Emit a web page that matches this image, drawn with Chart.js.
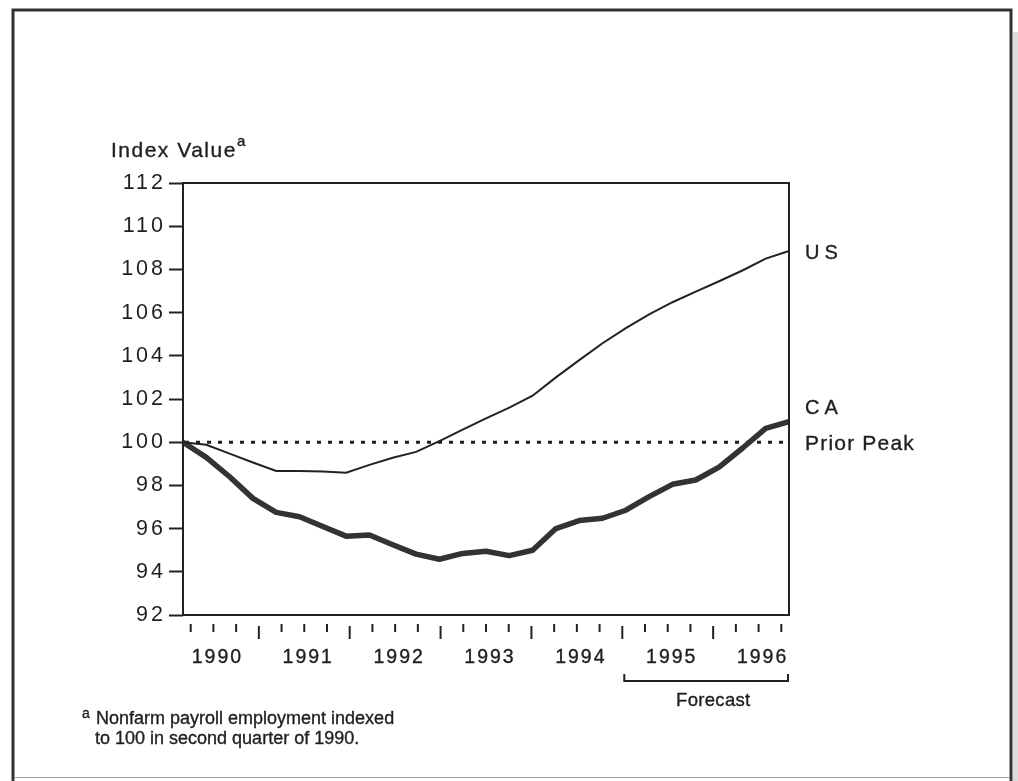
<!DOCTYPE html>
<html>
<head>
<meta charset="utf-8">
<script src="https://cdn.jsdelivr.net/npm/chart.js@4.4.1/dist/chart.umd.min.js"></script>
<style>
  html, body { margin: 0; padding: 0; background: #ffffff; }
  canvas { display: block; }
</style>
</head>
<body>
<canvas id="c" width="1018" height="781"></canvas>
<script>
// ---- data ----
const quarters = [
  "1990 Q2","1990 Q3","1990 Q4",
  "1991 Q1","1991 Q2","1991 Q3","1991 Q4",
  "1992 Q1","1992 Q2","1992 Q3","1992 Q4",
  "1993 Q1","1993 Q2","1993 Q3","1993 Q4",
  "1994 Q1","1994 Q2","1994 Q3","1994 Q4",
  "1995 Q1","1995 Q2","1995 Q3","1995 Q4",
  "1996 Q1","1996 Q2","1996 Q3","1996 Q4"
];
const years = ["1990","1991","1992","1993","1994","1995","1996"];
const usValues = [100, 99.88, 99.47, 99.06, 98.67, 98.67, 98.64, 98.59, 98.95, 99.28, 99.55,
  100.05, 100.58, 101.1, 101.6, 102.15, 103.0, 103.8, 104.58, 105.28, 105.92, 106.48,
  106.97, 107.45, 107.95, 108.5, 108.85];
const caValues = [100, 99.3, 98.4, 97.4, 96.75, 96.55, 96.1, 95.65, 95.7, 95.25, 94.82,
  94.58, 94.85, 94.95, 94.75, 95.0, 96.0, 96.37, 96.48, 96.85, 97.48, 98.05,
  98.25, 98.85, 99.72, 100.64, 100.95];
const priorPeak = 100;
const yTicks = { min: 92, max: 112, step: 2 };
const forecastStart = "1995 Q1";

// ---- styling ----
const FONT = '"Liberation Sans", Arial, Helvetica, sans-serif';
const INK = '#1f1f1f';

function drawText(ctx, text, x, y, size, align, spacing) {
  ctx.save();
  ctx.font = size + 'px ' + FONT;
  ctx.fillStyle = INK;
  ctx.strokeStyle = INK;
  ctx.lineWidth = 0.35;
  ctx.textBaseline = 'alphabetic';
  ctx.textAlign = align || 'left';
  ctx.letterSpacing = (spacing || 0) + 'px';
  let dx = 0;
  if (align === 'center') dx = (spacing || 0) / 2;
  if (align === 'right') dx = (spacing || 0);
  ctx.fillText(text, x + dx, y);
  ctx.strokeText(text, x + dx, y);
  ctx.restore();
}

const decor = {
  id: 'decor',
  beforeDraw(chart) {
    const ctx = chart.ctx;
    ctx.save();
    ctx.fillStyle = '#ffffff';
    ctx.fillRect(0, 0, chart.width, chart.height);
    // scanned edge strip at right
    ctx.fillStyle = '#dcdcdc';
    ctx.fillRect(1013, 32, 5, 749);
    // outer frame
    ctx.strokeStyle = '#333333';
    ctx.lineWidth = 3;
    ctx.beginPath();
    ctx.moveTo(13, 781);
    ctx.lineTo(13, 10);
    ctx.lineTo(1011, 10);
    ctx.lineTo(1011, 781);
    ctx.stroke();
    ctx.strokeStyle = '#a0a0a0';
    ctx.lineWidth = 1;
    ctx.beginPath();
    ctx.moveTo(14, 777.5);
    ctx.lineTo(1010, 777.5);
    ctx.stroke();
    ctx.restore();
    ctx.letterSpacing = '3px';
  },
  beforeDatasetsDraw(chart) {
    const ctx = chart.ctx;
    const a = chart.chartArea;
    const y = chart.scales.y.getPixelForValue(priorPeak);
    ctx.save();
    ctx.letterSpacing = '0px';
    ctx.strokeStyle = '#1e1e1e';
    ctx.lineWidth = 3;
    ctx.setLineDash([4, 7]);
    ctx.beginPath();
    ctx.moveTo(a.left + 2, y);
    ctx.lineTo(a.right - 2, y);
    ctx.stroke();
    ctx.restore();
  },
  afterDraw(chart) {
    const ctx = chart.ctx;
    ctx.letterSpacing = '0px';
    const a = chart.chartArea;
    const xs = chart.scales.x;
    const ys = chart.scales.y;
    // plot border
    ctx.save();
    ctx.strokeStyle = '#222222';
    ctx.lineWidth = 2;
    ctx.strokeRect(a.left, a.top, a.right - a.left, a.bottom - a.top);
    ctx.restore();

    // quarterly tick marks (detached below the axis, slightly inset)
    const inset = 7.7;
    const n = quarters.length;
    const x0 = xs.getPixelForValue(0), x1 = xs.getPixelForValue(n - 1);
    const tickX = i => x0 + inset + (xs.getPixelForValue(i) - x0) * ((x1 - x0 - 2 * inset) / (x1 - x0));
    ctx.save();
    ctx.strokeStyle = '#222222';
    ctx.lineWidth = 2;
    quarters.forEach((q, i) => {
      const isQ1 = q.endsWith('Q1');
      const x = tickX(i);
      ctx.beginPath();
      if (isQ1) { ctx.moveTo(x, a.bottom + 11); ctx.lineTo(x, a.bottom + 24); }
      else { ctx.moveTo(x, a.bottom + 9); ctx.lineTo(x, a.bottom + 17); }
      ctx.stroke();
    });
    ctx.restore();

    // year labels centred at each year's third quarter
    years.forEach(yr => {
      const i = quarters.indexOf(yr + ' Q3');
      drawText(ctx, yr, tickX(i) + 3, a.bottom + 48, 19.5, 'center', 2);
    });

    // forecast bracket
    const fs = tickX(quarters.indexOf(forecastStart)) + 2;
    const fe = a.right - 1;
    ctx.save();
    ctx.strokeStyle = '#222222';
    ctx.lineWidth = 2;
    ctx.beginPath();
    ctx.moveTo(fs, a.bottom + 59);
    ctx.lineTo(fs, a.bottom + 66);
    ctx.lineTo(fe, a.bottom + 66);
    ctx.lineTo(fe, a.bottom + 59);
    ctx.stroke();
    ctx.restore();
    drawText(ctx, 'Forecast', (fs + fe) / 2 + 7, a.bottom + 91, 18.5, 'center', 0.3);

    // axis title
    drawText(ctx, 'Index Value', 111, 157, 21, 'left', 1.5);
    drawText(ctx, 'a', 237, 146, 15, 'left', 0);

    // series labels at right
    const lx = a.right + 16;
    drawText(ctx, 'US', lx, ys.getPixelForValue(usValues[n - 1]) + 8, 20, 'left', 5);
    drawText(ctx, 'CA', lx, 414, 20, 'left', 5);
    drawText(ctx, 'Prior Peak', lx, ys.getPixelForValue(priorPeak) + 8, 21, 'left', 1.2);

    // footnote
    drawText(ctx, 'a', 82, 718, 14, 'left', 0);
    drawText(ctx, 'Nonfarm payroll employment indexed', 96, 724, 18, 'left', 0);
    drawText(ctx, 'to 100 in second quarter of 1990.', 95, 744, 18, 'left', 0);
  }
};

new Chart(document.getElementById('c').getContext('2d'), {
  type: 'line',
  data: {
    labels: quarters,
    datasets: [
      { label: 'US', data: usValues, borderColor: '#222222', borderWidth: 2,
        pointRadius: 0, tension: 0, fill: false },
      { label: 'CA', data: caValues, borderColor: '#333333', borderWidth: 5.5,
        pointRadius: 0, tension: 0, fill: false, borderJoinStyle: 'round' }
    ]
  },
  options: {
    responsive: false,
    animation: false,
    events: [],
    layout: { padding: { left: 0, top: 183, right: 1018 - 789, bottom: 781 - 615 } },
    plugins: { legend: { display: false }, tooltip: { enabled: false } },
    scales: {
      x: { display: false, offset: false },
      y: {
        min: yTicks.min, max: yTicks.max,
        ticks: { stepSize: yTicks.step, color: INK, padding: 3,
                 font: { family: FONT, size: 21.5 } },
        grid: { drawOnChartArea: false, drawTicks: true, tickLength: 14,
                tickColor: '#222222', tickWidth: 2 },
        border: { display: false },
        afterFit(s) { s.width = 183; }
      }
    }
  },
  plugins: [decor]
});
</script>
</body>
</html>
